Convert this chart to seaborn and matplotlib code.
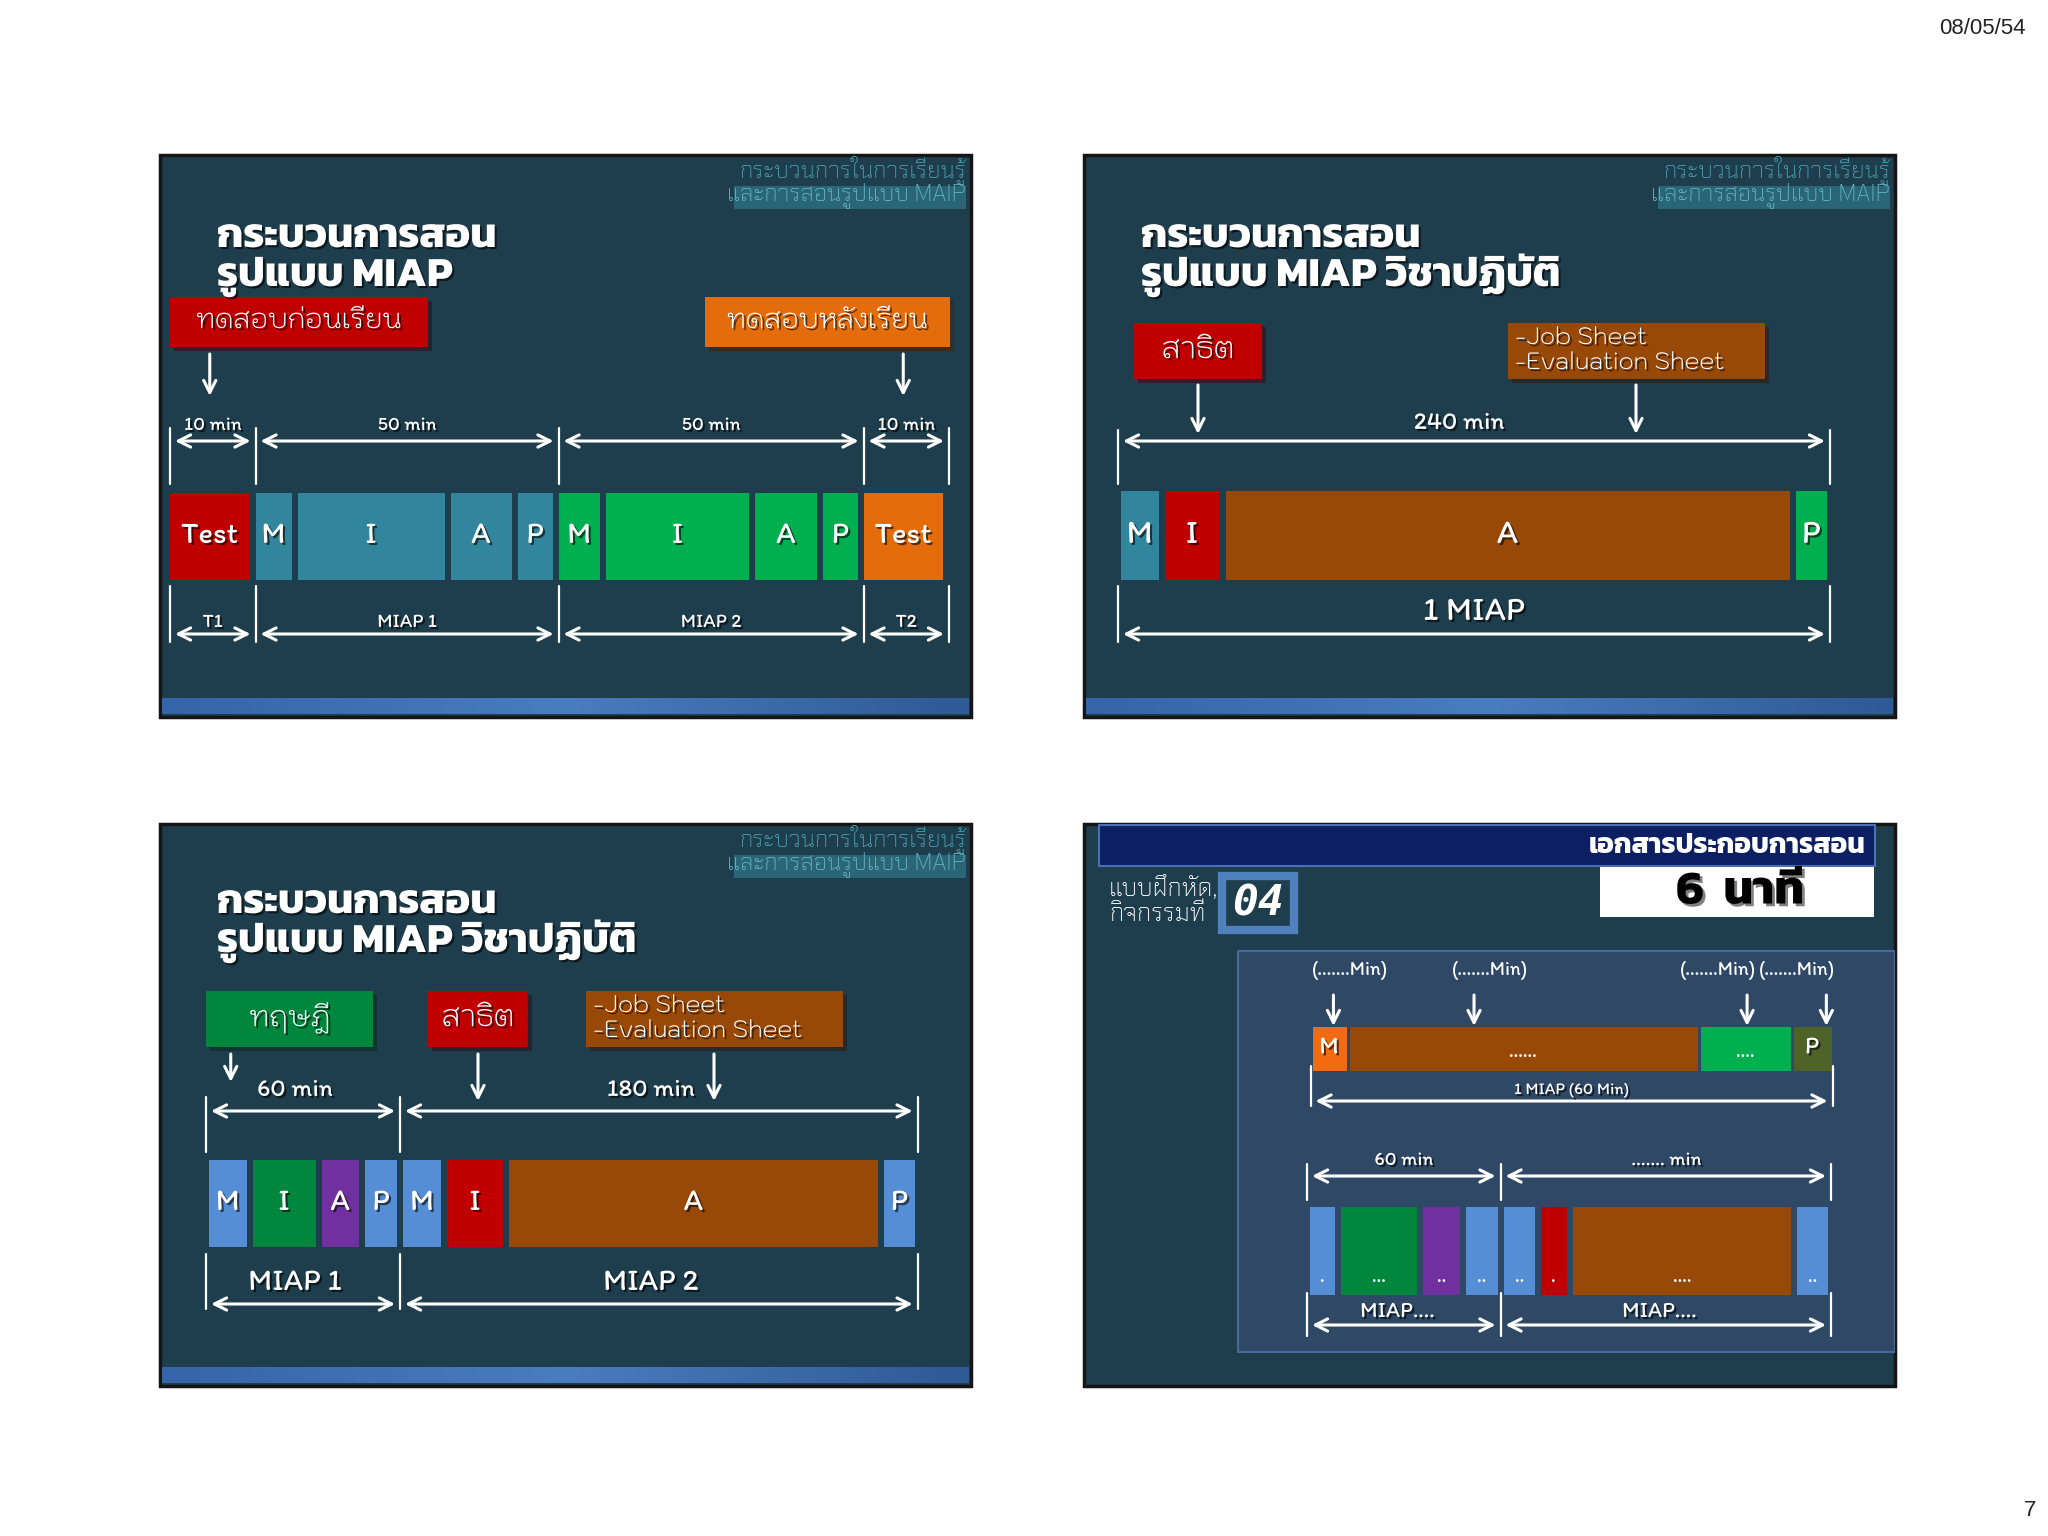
import numpy as np
import matplotlib.pyplot as plt
import matplotlib.patheffects as pe
from matplotlib.colors import LinearSegmentedColormap
from matplotlib.patches import Rectangle
import seaborn as sns

# ---------------- data ----------------
# slide 1 : pre-test, MIAP 1, MIAP 2, post-test
p1_labels = ["Test", "M", "I", "A", "P", "M", "I", "A", "P", "Test"]
p1_widths = [85.5, 42, 153, 67, 41, 47.5, 149, 68, 40.5, 85.5]
p1_colors = ["#c00000", "#31859c", "#31859c", "#31859c", "#31859c",
             "#00b050", "#00b050", "#00b050", "#00b050", "#e46c0a"]
p1_group_size = [1, 4, 4, 1]
p1_spans = ["10 min", "50 min", "50 min", "10 min"]
p1_groups = ["T1", "MIAP 1", "MIAP 2", "T2"]

# slide 2 : one practical MIAP
p2_labels = ["M", "I", "A", "P"]
p2_widths = [43.5, 61, 570, 37.5]
p2_colors = ["#31859c", "#c00000", "#984807", "#00b050"]
p2_group_size = [4]
p2_spans = ["240 min"]
p2_groups = ["1 MIAP"]

# slide 3 : theory MIAP + practical MIAP
p3_labels = ["M", "I", "A", "P", "M", "I", "A", "P"]
p3_widths = [43.5, 69, 43.5, 38, 44, 62, 375, 36.6]
p3_colors = ["#558ed5", "#00863d", "#7030a0", "#558ed5",
             "#558ed5", "#c00000", "#984807", "#558ed5"]
p3_group_size = [4, 4]
p3_spans = ["60 min", "180 min"]
p3_groups = ["MIAP 1", "MIAP 2"]

# slide 4 : exercise, upper bar
p4a_labels = ["M", "......", "....", "P"]
p4a_widths = [37, 351.5, 92.5, 41]
p4a_colors = ["#f26b10", "#984807", "#00b050", "#4f6228"]
p4a_group_size = [4]
p4a_spans = ["1 MIAP (60 Min)"]
p4a_marks = ["(.......Min)", "(.......Min)", "(.......Min)", "(.......Min)"]

# slide 4 : exercise, lower bar
p4b_labels = [".", "...", "..", "..", "..", ".", "....", ".."]
p4b_widths = [31, 81.5, 43.5, 37.5, 37.5, 31.5, 224.5, 37]
p4b_colors = ["#558ed5", "#00863d", "#7030a0", "#558ed5",
              "#558ed5", "#c00000", "#984807", "#558ed5"]
p4b_group_size = [4, 4]
p4b_spans = ["60 min", "....... min"]
p4b_groups = ["MIAP....", "MIAP...."]

# ---------------- style ----------------
sns.set_theme(style="white")
plt.rcParams["font.family"] = ["Kodchasan", "Itim", "DejaVu Sans"]
plt.rcParams["font.weight"] = "light"
plt.rcParams["patch.edgecolor"] = "none"
HEAVY = ["Kanit", "DejaVu Sans"]
SQUARE = ["Chakra Petch", "DejaVu Sans"]
HAND = ["Itim", "DejaVu Sans"]

W, H = 2048, 1536
PW, PH = 811, 562
BG = "#1e3e4d"
WHITE = "white"
shadow = [pe.withSimplePatchShadow(offset=(1.5, -1.5), shadow_rgbFace="black", alpha=0.6)]

fig = plt.figure(figsize=(W / 100, H / 100), dpi=100)
fig.patch.set_facecolor("white")


def make_panel(left, top, bg=BG, strip=True):
    ax = fig.add_axes([left / W, 1 - (top + PH) / H, PW / W, PH / H])
    ax.set_xlim(0, PW)
    ax.set_ylim(PH, 0)
    ax.axis("off")
    ax.add_patch(Rectangle((0, 0), PW, PH, facecolor=bg, edgecolor="#151515",
                           lw=2.5, zorder=0, clip_on=False))
    if strip:
        grad = np.linspace(0, 1, 256).reshape(1, -1)
        cmap = LinearSegmentedColormap.from_list("s", ["#3565a8", "#4a7cc0", "#2e5a95"])
        ax.imshow(grad, extent=(2, PW - 2, PH - 3, 543), aspect="auto", cmap=cmap, zorder=1)
    return ax


def watermark(ax):
    ax.add_patch(Rectangle((574, 31), 232, 23, facecolor="#2b6677", edgecolor="none", zorder=1))
    ax.text(806, 30, "กระบวนการในการเรียนรู้", ha="right", va="bottom",
            color="#4a9fb0", fontsize=17, family=SQUARE, zorder=2)
    ax.text(806, 53, "และการสอนรูปแบบ MAIP", ha="right", va="bottom",
            color="#63b3c3", fontsize=17, family=SQUARE, zorder=2)


def title(ax, l1, l2, y1=92, y2=131):
    for y, l in ((y1, l1), (y2, l2)):
        ax.text(57, y, l, ha="left", va="baseline", color=WHITE, fontsize=30,
                fontweight="bold", family=HEAVY, path_effects=shadow, zorder=3)


def box(ax, x0, x1, y0, y1, color, text, fs=21, ha="center"):
    ax.add_patch(Rectangle((x0, y0), x1 - x0, y1 - y0, facecolor=color, edgecolor="none",
                           zorder=2,
                           path_effects=[pe.withSimplePatchShadow(offset=(3, -3), alpha=0.45)]))
    if ha == "center":
        ax.text((x0 + x1) / 2, (y0 + y1) / 2, text, ha="center", va="center",
                color=WHITE, fontsize=fs, path_effects=shadow, zorder=3)
    else:
        ax.text(x0 + 7, (y0 + y1) / 2, text, ha="left", va="center", color=WHITE,
                fontsize=fs, linespacing=1.0, path_effects=shadow, zorder=3)


def down_arrow(ax, x, y0, y1, lw=2.2):
    ax.annotate("", xy=(x, y1), xytext=(x, y0),
                arrowprops=dict(arrowstyle="->", color=WHITE, lw=lw,
                                mutation_scale=22, shrinkA=0, shrinkB=0), zorder=3)


def bar(ax, x0, yc, h, widths, colors, labels, fs=22, gap=6, bg=BG, dots=False):
    gap_pt = gap * 72 / 100
    lefts = x0 - gap / 2 + np.concatenate([[0], np.cumsum(widths)[:-1]])
    ax.barh(yc, widths, left=lefts, height=h + gap, color=colors, edgecolor=bg,
            linewidth=gap_pt, zorder=2)
    for l, w, lab in zip(lefts, widths, labels):
        if dots and lab.startswith("."):
            ax.text(l + w / 2, yc + h / 2 - 8, lab, ha="center", va="bottom",
                    color=WHITE, fontsize=fs, fontweight="bold", family=HAND, zorder=3)
        else:
            ax.text(l + w / 2, yc, lab, ha="center", va="center", color=WHITE,
                    fontsize=fs + (4 if dots else 0), family=HAND,
                    path_effects=shadow, zorder=3)
    return x0 - gap / 2, lefts, np.asarray(widths)


def edges_of(x0, widths, group_size):
    idx = np.cumsum([0] + list(group_size))
    cw = np.concatenate([[0], np.cumsum(widths)])
    return [x0 + cw[i] for i in idx]


def spans(ax, edges, y_top, y_bot, y_arrow, labels, label_y, fs, inset=5, lw=2.2, dx=0):
    for x in edges:
        ax.plot([x, x], [y_top, y_bot], color=WHITE, lw=1.6, zorder=3)
    for a, b, lab in zip(edges[:-1], edges[1:], labels):
        ax.annotate("", xy=(a + inset, y_arrow), xytext=(b - inset, y_arrow),
                    arrowprops=dict(arrowstyle="<->", color=WHITE, lw=lw,
                                    mutation_scale=22, shrinkA=0, shrinkB=0), zorder=3)
        ax.text((a + b) / 2 + dx, label_y, lab, ha="center", va="bottom", color=WHITE,
                fontsize=fs, family=HAND, path_effects=shadow, zorder=3)


# ---------------- slide 1 ----------------
ax1 = make_panel(160, 155)
watermark(ax1)
title(ax1, "กระบวนการสอน", "รูปแบบ MIAP")
box(ax1, 10, 268, 142, 192, "#c00000", "ทดสอบก่อนเรียน", fs=19)
box(ax1, 545, 790, 142, 192, "#e46c0a", "ทดสอบหลังเรียน", fs=19)
x0, lefts, ws = bar(ax1, 10, 381.5, 87, p1_widths, p1_colors, p1_labels)
down_arrow(ax1, lefts[0] + ws[0] / 2, 199, 241)
down_arrow(ax1, lefts[-1] + ws[-1] / 2, 199, 241)
e = edges_of(x0 + 3, p1_widths, p1_group_size)
spans(ax1, e, 273, 329, 286, p1_spans, 280, 14)
spans(ax1, e, 431, 487, 479, p1_groups, 477, 14)

# ---------------- slide 2 ----------------
ax2 = make_panel(1084, 155)
watermark(ax2)
title(ax2, "กระบวนการสอน", "รูปแบบ MIAP วิชาปฏิบัติ")
box(ax2, 50, 178, 168, 224, "#c00000", "สาธิต")
box(ax2, 424, 681, 168, 224, "#984807", "-Job Sheet\n-Evaluation Sheet", fs=17, ha="left")
down_arrow(ax2, 114, 230, 279)
down_arrow(ax2, 552, 230, 279)
x0, lefts, ws = bar(ax2, 37, 380.5, 89, p2_widths, p2_colors, p2_labels, fs=24)
e = edges_of(x0, p2_widths, p2_group_size)
spans(ax2, e, 275, 329, 286, p2_spans, 280, 18, dx=-15)
spans(ax2, e, 431, 487, 479, p2_groups, 473, 24)

# ---------------- slide 3 ----------------
ax3 = make_panel(160, 824)
watermark(ax3)
title(ax3, "กระบวนการสอน", "รูปแบบ MIAP วิชาปฏิบัติ", y1=89, y2=128)
box(ax3, 46, 213, 167, 223, "#00863d", "ทฤษฎี", fs=20)
box(ax3, 268, 368, 167, 223, "#c00000", "สาธิต")
box(ax3, 426, 683, 167, 223, "#984807", "-Job Sheet\n-Evaluation Sheet", fs=17, ha="left")
x0, lefts, ws = bar(ax3, 49, 379.5, 87, p3_widths, p3_colors, p3_labels, fs=22)
down_arrow(ax3, lefts[0] + ws[0] / 2 + 3, 230, 258)
down_arrow(ax3, 318, 230, 277)
down_arrow(ax3, 554, 230, 277)
e = edges_of(x0, p3_widths, p3_group_size)
spans(ax3, e, 273, 328, 287, p3_spans, 278, 18, dx=-8)
spans(ax3, e, 430, 485, 480, p3_groups, 473, 22, dx=-8)

# ---------------- slide 4 ----------------
ax4 = make_panel(1084, 824, strip=False)
ax4.add_patch(Rectangle((15, 1), 776, 41, facecolor="#0c1f62", edgecolor="#4a6fb5",
                        lw=1.5, zorder=1))
ax4.text(782, 22, "เอกสารประกอบการสอน", ha="right", va="center", color=WHITE,
         fontsize=20, fontweight="bold", family=HEAVY, zorder=3)
ax4.add_patch(Rectangle((516, 43), 274, 50, facecolor="white", edgecolor="none", zorder=1))
ax4.text(656, 68, "6  นาที", ha="center", va="center", color="black", fontsize=34,
         fontweight="bold", family=HEAVY, zorder=3,
         path_effects=[pe.withSimplePatchShadow(offset=(2, -2), alpha=0.5)])
ax4.text(25, 78, "แบบฝึกหัด,\nกิจกรรมที่", ha="left", va="center", color=WHITE,
         fontsize=18, linespacing=1.0, family=SQUARE, zorder=3)
ax4.add_patch(Rectangle((138, 52), 72, 54, facecolor="#1e3e4d", edgecolor="#4f81bd",
                        lw=6, zorder=2))
ax4.text(174, 80, "04", ha="center", va="center", color=WHITE, fontsize=31,
         fontweight="bold", style="italic", family="DejaVu Sans Mono", zorder=3)
ax4.add_patch(Rectangle((154, 127), 657, 401, facecolor="#2e4866", edgecolor="#4868a0",
                        lw=1.5, zorder=1))

x0, lefts, ws = bar(ax4, 228, 224, 44, p4a_widths, p4a_colors, p4a_labels, fs=14,
                    gap=3, bg="#2e4866", dots=True)
arrow_x = [lefts[0] + ws[0] * 0.62, lefts[1] + ws[1] * 0.36,
           lefts[2] + ws[2] * 0.52, lefts[3] + ws[3] * 0.85]
for i, (ax_x, lab) in enumerate(zip(arrow_x, p4a_marks)):
    down_arrow(ax4, ax_x, 171, 202)
    if i < 2:
        ax4.text(ax_x - 22, 147, lab, ha="left", va="center", color=WHITE, fontsize=14,
                 family=HAND, zorder=3)
    else:
        ax4.text(ax_x + 9, 147, lab, ha="right", va="center", color=WHITE, fontsize=14,
                 family=HAND, zorder=3)
e = edges_of(x0, p4a_widths, p4a_group_size)
spans(ax4, e, 242, 282, 277, p4a_spans, 274, 12)

x0, lefts, ws = bar(ax4, 226, 427, 88, p4b_widths, p4b_colors, p4b_labels, fs=14,
                    gap=6, bg="#2e4866", dots=True)
e = edges_of(x0, p4b_widths, p4b_group_size)
spans(ax4, e, 340, 376, 352, p4b_spans, 346, 14)
spans(ax4, e, 469, 512, 501, p4b_groups, 498, 16, dx=-6)

# ---------------- page furniture ----------------
fig.text(2026 / W, 1 - 29 / H, "08/05/54", ha="right", va="center", color="#222222",
         fontsize=16, family="Liberation Sans")
fig.text(2036 / W, 1 - 1510 / H, "7", ha="right", va="center", color="#222222",
         fontsize=16, family="Liberation Sans")

fig.savefig("out.png", dpi=100)
